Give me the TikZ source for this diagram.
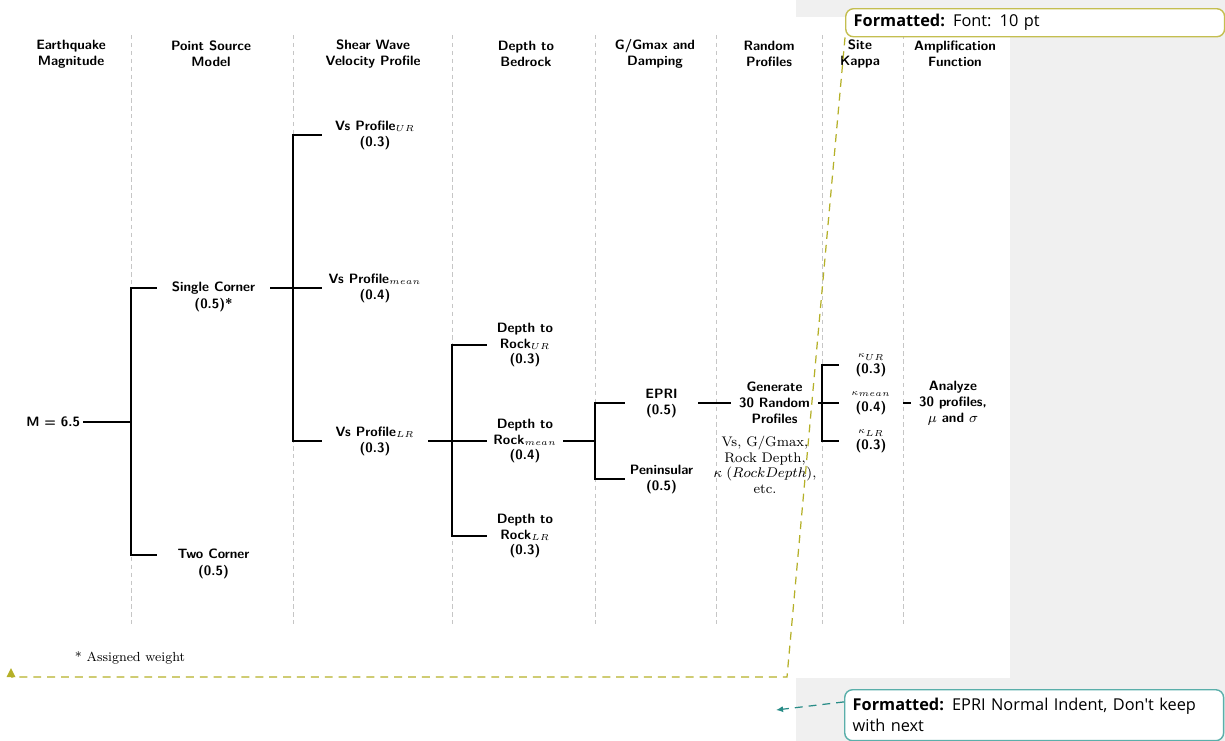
\documentclass[tikz,border=0pt]{standalone}
\usepackage{fontspec}
\newfontfamily\cmtfont{Open Sans}
\usetikzlibrary{arrows.meta}

\definecolor{bggray}{RGB}{240,240,240}
\definecolor{olivel}{RGB}{181,176,40}
\definecolor{oliveb}{RGB}{196,190,80}
\definecolor{teall}{RGB}{40,140,135}
\definecolor{tealb}{RGB}{90,175,170}

\newcommand{\treefont}{\sffamily\bfseries\fontsize{7.7}{9.1}\selectfont}

\tikzset{
	head/.style={font=\treefont, align=center},
	leaf/.style={font=\treefont, align=center, inner sep=0pt, minimum width=#1},
	pc/.style={leaf=#1, text height=5.5pt, text depth=1.6pt},
	wt/.style={font=\treefont, inner sep=0pt, text height=5.5pt, text depth=1.6pt, yshift=-2.2pt},
	col/.style={gray!45, line width=0.5pt, dash pattern=on 2.5pt off 2pt},
	br/.style={black, line width=1.1pt},
	cbox/.style={font=\cmtfont\fontsize{9.3}{11.9}\selectfont, align=left, fill=white,
		rounded corners=4.5pt, line width=0.8pt, anchor=north west,
		minimum width=7.58cm, text width=7.26cm, inner xsep=0.16cm},
}

\begin{document}
\begin{tikzpicture}[x=0.02cm, y=-0.02cm]
	\useasboundingbox (0,0) rectangle (1225,741);
	\fill[bggray] (796,0) rectangle (1225,741);
	\fill[white] (796,17) rectangle (1010,678);

	\foreach \x in {131,293,452,595,716,822,903} {
		\draw[col] (\x,35) -- (\x,627);
	}

	\foreach \x/\t [count=\i] in {71/{Earthquake\\Magnitude}, 211/{Point Source\\Model},
		373/{Shear Wave\\Velocity Profile}, 526/{Depth to\\Bedrock},
		655/{G/Gmax and\\Damping}, 769/{Random\\Profiles},
		860/{Site\\Kappa}, 955/{Amplification\\Function}} {
		\node[head] (h\i) at (\x,54) {\t};
	}

	% junctions
	\coordinate (j1) at (131,0);
	\coordinate (j2) at (293,0);
	\coordinate (j3) at (452,0);
	\coordinate (j4) at (595,0);
	\coordinate (j5) at (822,0);

	\node[font=\treefont, inner sep=1.5pt, anchor=east] (mag) at (83,422) {M = 6.5};

	\node[pc=2.26cm, label={[wt]below:(0.5)*}] (single) at (213.5,288) {Single Corner};
	\node[pc=2.26cm, label={[wt]below:(0.5)}] (two) at (213.5,555) {Two Corner};

	\node[leaf=2.12cm] (vsur) at (375,135) {Vs Profile$_{UR}$\\(0.3)};
	\node[leaf=2.12cm] (vsmean) at (375,288) {Vs Profile$_{mean}$\\(0.4)};
	\node[leaf=2.12cm] (vslr) at (375,441) {Vs Profile$_{LR}$\\(0.3)};

	\node[leaf=1.52cm] (dur) at (525,345) {Depth to\\Rock$_{UR}$\\(0.3)};
	\node[leaf=1.52cm] (dmean) at (525,441) {Depth to\\Rock$_{mean}$\\(0.4)};
	\node[leaf=1.52cm] (dlr) at (525,536) {Depth to\\Rock$_{LR}$\\(0.3)};

	\node[leaf=1.46cm] (epri) at (661.5,403) {EPRI\\(0.5)};
	\node[leaf=1.46cm] (pen) at (661.5,479) {Peninsular\\(0.5)};

	\node[leaf=1.74cm] (gen) at (774.5,403) {Generate\\30 Random\\Profiles};
	\node[font=\fontsize{7.9}{8.9}\selectfont, align=center, inner sep=0pt] (note) at (765,465)
		{Vs, G/Gmax,\\Rock Depth,\\$\kappa\;(Rock Depth)$,\\etc.};

	\node[leaf=1.28cm] (kur) at (871,365) {$\scriptstyle\kappa_{UR}$\\(0.3)};
	\node[leaf=1.28cm] (kmean) at (871,403) {$\scriptstyle\kappa_{mean}$\\(0.4)};
	\node[leaf=1.28cm] (klr) at (871,441) {$\scriptstyle\kappa_{LR}$\\(0.3)};

	\node[leaf=1.68cm] (ana) at (953,403) {Analyze\\30 profiles,\\$\mu$ and $\sigma$};

	% branches
	\draw[br] (mag.east) -- (mag -| j1);
	\draw[br] (single.west) -- (single -| j1) -- (two -| j1) -- (two.west);
	\draw[br] (single.east) -- (single -| j2);
	\draw[br] (vsur.west) -- (vsur -| j2) -- (vslr -| j2) -- (vslr.west);
	\draw[br] (vsmean.west) -- (vsmean -| j2);
	\draw[br] (vslr.east) -- (vslr -| j3);
	\draw[br] (dur.west) -- (dur -| j3) -- (dlr -| j3) -- (dlr.west);
	\draw[br] (dmean.west) -- (dmean -| j3);
	\draw[br] (dmean.east) -- (dmean -| j4);
	\draw[br] (epri.west) -- (epri -| j4) -- (pen -| j4) -- (pen.west);
	\draw[br] (epri.east) -- (gen.west);
	\draw[br] (gen.east) -- (gen -| j5);
	\draw[br] (kur.west) -- (kur -| j5) -- (klr -| j5) -- (klr.west);
	\draw[br] (kmean.west) -- (kmean -| j5);
	\draw[br] (kmean.east) -- (ana.west);

	\node[font=\fontsize{7.5}{9}\selectfont, inner sep=0pt] (foot) at (130,658) {* Assigned weight};

	% comment balloons
	\node[cbox, draw=oliveb, minimum height=0.56cm] (c1) at (845,8) {\textbf{Formatted:} Font: 10 pt};
	\node[cbox, draw=tealb, minimum height=1.02cm] (c2) at (844,689)
		{\textbf{Formatted:} EPRI Normal Indent, Don't keep\\with next};

	\coordinate (bend) at (787,677);
	\coordinate (mark) at (11,677);
	\draw[olivel, line width=0.7pt, dash pattern=on 4.5pt off 3.4pt] (c1.south west) -- (bend) -- (mark);
	\fill[olivel] (mark) ++(-4.5,0) -- ++(9,0) -- ++(-4.5,-9) -- cycle;

	\coordinate (tip) at (776,710);
	\draw[teall, line width=0.7pt, dash pattern=on 4.5pt off 3.4pt, -{Latex[length=4pt,width=3.5pt]}]
		(c2.176) -- (tip);
\end{tikzpicture}
\end{document}
